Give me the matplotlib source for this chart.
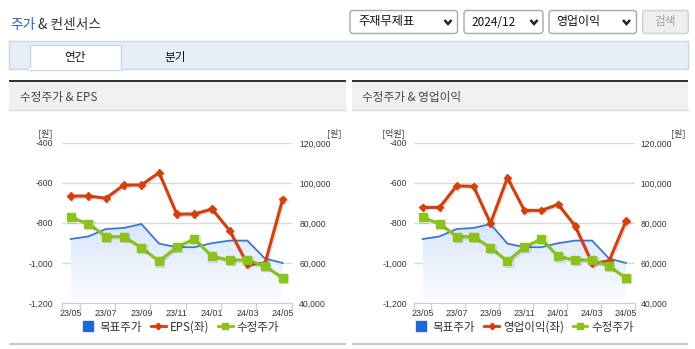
import numpy as np
import matplotlib
matplotlib.use("Agg")
from matplotlib import pyplot as plt
from matplotlib.patches import Rectangle, FancyBboxPatch
from matplotlib.lines import Line2D
from matplotlib.colors import LinearSegmentedColormap
import matplotlib.patheffects as pe

plt.rcParams['font.family'] = ['Noto Sans CJK KR', 'DejaVu Sans']

# monthly series, 23/05 .. 24/05
months = ['23/05', '23/06', '23/07', '23/08', '23/09', '23/10', '23/11',
          '23/12', '24/01', '24/02', '24/03', '24/04', '24/05']
target_price = [72000, 73300, 77000, 77500, 79500, 69700, 67900,
                67900, 69900, 71200, 71200, 62200, 60000]
adj_price = [82800, 79700, 73200, 73200, 67700, 60900, 68000,
             72000, 63300, 61500, 61500, 58500, 52500]
eps = [-665, -665, -676, -610, -610, -548, -755,
       -755, -730, -838, -1005, -1002, -681]
op_income = [-722, -722, -614, -617, -802, -574, -737,
             -737, -707, -815, -1002, -990, -789]

price_ticks = [40000, 60000, 80000, 100000, 120000]
left_ticks = [-1200, -1000, -800, -600, -400]

C_BLUE = '#3a76d6'
C_RED = '#d4400d'
C_GREEN = '#8cc21c'
C_AXIS = '#c4d2e6'
C_TEXT = '#333333'

W, H = 695, 349
fig = plt.figure(figsize=(W / 100, H / 100), dpi=100)

# page layer in pixel units, y grows downward
page = fig.add_axes([0, 0, 1, 1])
page.set_xlim(0, W)
page.set_ylim(H, 0)
page.axis('off')


def px_rect(x0, y0, x1, y1):
    return [x0 / W, 1 - y1 / H, (x1 - x0) / W, (y1 - y0) / H]


def rounded(x, y, w, h, fc, ec):
    page.add_patch(FancyBboxPatch((x, y), w, h, boxstyle='round,pad=0,rounding_size=3',
                                  fc=fc, ec=ec, lw=1))


def chevron(cx, cy):
    page.plot([cx - 3.5, cx, cx + 3.5], [cy - 2, cy + 2, cy - 2], color='#222222',
              lw=1.8, solid_capstyle='butt', solid_joinstyle='miter')


# title
page.text(10, 25, '주가', color='#2a62c9', fontsize=9.9, va='center', ha='left')
page.text(38.5, 25, '& 컨센서스', color=C_TEXT, fontsize=9.9, va='center', ha='left')

# selectors
rounded(350, 10.5, 107.5, 23, 'white', '#a8a8a8')
page.text(358, 22, '주재무제표', fontsize=8.8, va='center', color='#111111')
chevron(448, 22)
rounded(464, 10.5, 79, 23, 'white', '#a8a8a8')
page.text(471.5, 22, '2024/12', fontsize=8.5, va='center', color='#111111')
chevron(534, 22)
rounded(549, 10.5, 87.5, 23, 'white', '#a8a8a8')
page.text(556.5, 22, '영업이익', fontsize=8.6, va='center', color='#111111')
chevron(626.5, 22)
rounded(642.7, 10.5, 45.6, 23, '#efefef', '#cfcfcf')
page.text(665.5, 22, '검색', fontsize=8.4, va='center', ha='center', color='#a0a0a0')

# tabs
page.add_patch(Rectangle((9, 40.5), 679, 28.5, fc='#e8eef8', ec='#c9d5e8', lw=1))
page.add_patch(Rectangle((29.5, 45), 91, 24.5, fc='white', ec='#c9d5e8', lw=1))
page.plot([30, 120], [69, 69], color='white', lw=1.5)
page.text(75, 57, '연간', fontsize=8.4, ha='center', va='center', color='#111111')
page.text(175.5, 57, '분기', fontsize=8.4, ha='center', va='center', color='#111111')


def panel(x0, x1, title):
    page.add_patch(Rectangle((x0, 79.5), x1 - x0, 2.5, fc='#333333', ec='none'))
    page.add_patch(Rectangle((x0, 82), x1 - x0, 28, fc='#f0f0f0', ec='none'))
    page.plot([x0, x1], [110, 110], color='#dcdcdc', lw=1)
    page.text(x0 + 11, 97.5, title, fontsize=8.4, va='center', color='#444444')
    page.add_patch(Rectangle((x0, 342.5), x1 - x0, 2, fc='#c8c8c8', ec='none'))


shadow = [pe.SimpleLineShadow(offset=(1, -1), shadow_color='k', alpha=0.12), pe.Normal()]


def draw_chart(x0, x1, left_vals, left_name, left_unit, lpad, rpad, legend_cx):
    x = np.arange(len(months))
    ax = fig.add_axes(px_rect(x0, 143, x1, 303))
    ax_left = ax.twinx()
    ax_top = ax.twinx()

    # target price: gradient area + thin line
    fill = ax.fill_between(x, target_price, 40000, facecolor='none', edgecolor='none')
    grad = np.linspace(0, 1, 256).reshape(-1, 1)
    cmap = LinearSegmentedColormap.from_list('area', ['#fcfdff', '#d9e6f9'])
    img = ax.imshow(grad, extent=[x[0], x[-1], 40000, max(target_price)], origin='lower',
                    aspect='auto', cmap=cmap, zorder=1)
    img.set_clip_path(fill.get_paths()[0], transform=ax.transData)
    ax.plot(x, target_price, color=C_BLUE, lw=1.3, zorder=3)

    ax_left.plot(x, left_vals, color=C_RED, lw=2.2, marker='D', ms=3.6,
                 path_effects=shadow)
    ax_top.plot(x, adj_price, color=C_GREEN, lw=2.2, marker='s', ms=5.8,
                path_effects=shadow)

    ax.set_xlim(-0.5, len(months) - 0.5)
    ax.set_ylim(40000, 120000)
    ax_top.set_ylim(40000, 120000)
    ax_left.set_ylim(-1200, -400)

    ax.grid(axis='y', color='#d9d9d9', lw=1)
    ax.set_axisbelow(True)
    for a in (ax, ax_left, ax_top):
        for s in a.spines.values():
            s.set_visible(False)
    ax.spines['bottom'].set_visible(True)
    ax.spines['bottom'].set_color(C_AXIS)

    ax.yaxis.tick_right()
    ax.set_yticks(price_ticks, [f'{v:,}' for v in price_ticks], fontfamily='Liberation Sans')
    ax.tick_params(axis='y', length=0, pad=rpad, labelsize=6.2, labelcolor=C_TEXT)
    ax_left.yaxis.tick_left()
    ax_left.set_yticks(left_ticks, [f'{v:,}' for v in left_ticks], fontfamily='Liberation Sans')
    ax_left.tick_params(axis='y', length=0, pad=lpad, labelsize=6.2, labelcolor=C_TEXT)
    ax_top.set_yticks([])

    ax.set_xticks(x[::2], months[::2], fontfamily='Liberation Sans')
    ax.set_xticks(np.r_[-0.5, np.arange(0.5, len(months), 2)], minor=True)
    ax.tick_params(axis='x', which='major', length=0, pad=4.5, labelsize=6.4, labelcolor=C_TEXT)
    ax.tick_params(axis='x', which='minor', length=5, width=1, color=C_AXIS)

    page.text(x0 - 9, 133, left_unit, ha='right', va='center', fontsize=6.5, color=C_TEXT)
    page.text(x1 + 50.5, 133, '[원]', ha='right', va='center', fontsize=6.5, color=C_TEXT)

    handles = [
        Line2D([], [], ls='none', marker='s', ms=6.8, color='#2466d8'),
        Line2D([], [], color=C_RED, lw=2, marker='D', ms=3.3),
        Line2D([], [], color=C_GREEN, lw=2, marker='s', ms=5),
    ]
    fig.legend(handles, ['목표주가', left_name, '수정주가'], loc='center',
               bbox_to_anchor=(legend_cx / W, 1 - 327 / H), ncol=3, frameon=False,
               fontsize=8.3, labelcolor=C_TEXT, handlelength=1.25, handletextpad=0.35,
               columnspacing=0.8, borderpad=0, borderaxespad=0)


panel(9, 346, '수정주가 & EPS')
panel(351.5, 688, '수정주가 & 영업이익')
draw_chart(61.9, 291.5, eps, 'EPS(좌)', '[원]', 6.4, 5.6, 180)
draw_chart(414.2, 634.5, op_income, '영업이익(좌)', '[억원]', 5.3, 4.6, 524)

fig.savefig('out.png', dpi=100)
